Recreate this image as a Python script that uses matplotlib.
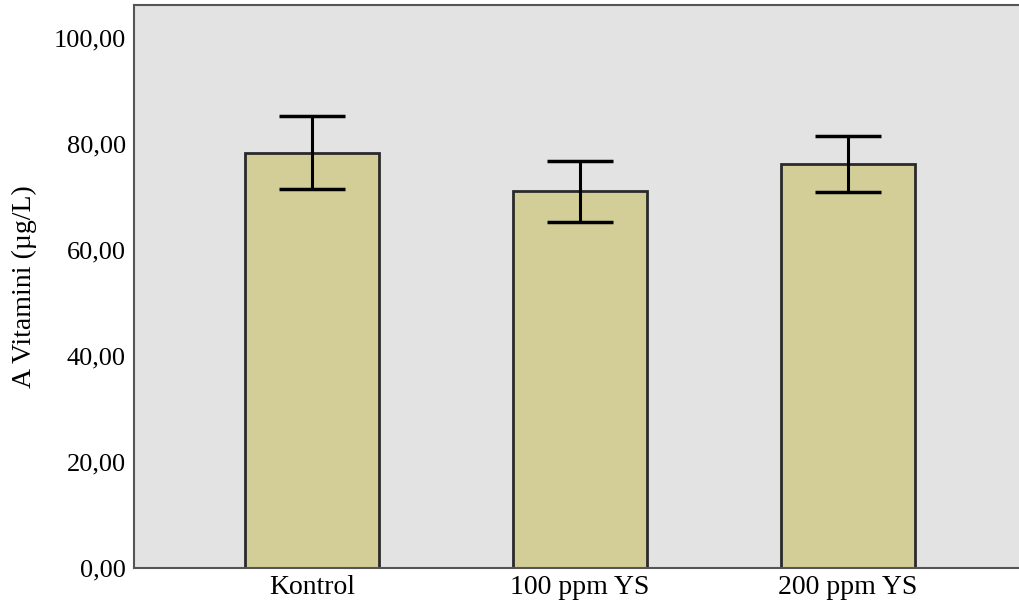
import matplotlib
matplotlib.use('Agg')
import matplotlib.pyplot as plt

groups = ['Kontrol', '100 ppm YS', '200 ppm YS']
means = [78.35, 71.05, 76.2]
errs = [6.95, 5.8, 5.3]
yticks = [0, 20, 40, 60, 80, 100]

plt.rcParams['font.family'] = ['Liberation Serif', 'DejaVu Serif']

fig = plt.figure(figsize=(10.2, 6.1), dpi=100)
ax = fig.add_axes([134/1020, 42/610, 886/1020, 563/610])
ax.set_facecolor('#e3e3e3')

x = range(len(groups))
ax.bar(x, means, width=0.5, color='#d3ce97', edgecolor='#2a2a2a', linewidth=2, zorder=2)
ax.errorbar(x, means, yerr=errs, fmt='none', ecolor='black', elinewidth=2.2,
            capsize=24, capthick=2.5, zorder=3)

ax.set_xlim(-0.664, 2.642)
ax.set_ylim(0, 106.2)
ax.set_xticks(list(x))
ax.set_xticklabels(groups, fontsize=20)
ax.set_yticks(yticks)
ax.set_yticklabels([f'{v:.2f}'.replace('.', ',') for v in yticks], fontsize=19)
ax.tick_params(axis='x', length=0, pad=5)
ax.tick_params(axis='y', length=0, pad=6)
ax.set_ylabel('A Vitamini (µg/L)', fontsize=20, labelpad=12)

for s in ['left', 'bottom', 'top']:
    ax.spines[s].set_color('#555555')
    ax.spines[s].set_linewidth(1.5)
ax.spines['right'].set_visible(False)

fig.savefig('out.png', dpi=100, facecolor='white')
